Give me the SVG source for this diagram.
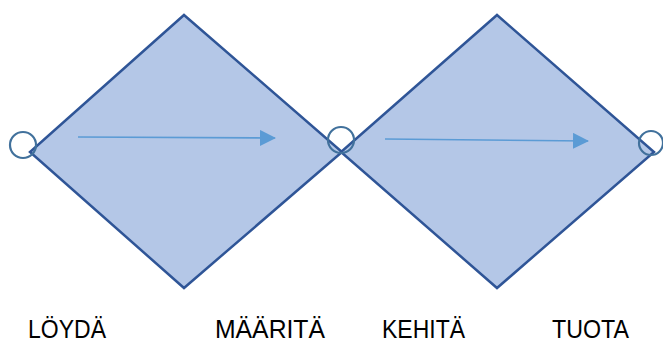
<svg xmlns="http://www.w3.org/2000/svg" width="663" height="345" viewBox="0 0 663 345">
<style>
.dia{fill:#b4c7e7;stroke:#2f5597;stroke-width:2.5;stroke-linejoin:miter}
.ring{fill:none;stroke:#41719c;stroke-width:2.2}
.arr{stroke:#5b9bd5;stroke-width:1.6;fill:none}
.lbl{font-family:"Liberation Sans",Arial,sans-serif;font-size:25px;fill:#000}
</style>
<defs>
<marker id="ah" viewBox="0 0 16 16" refX="15" refY="8" markerWidth="16" markerHeight="16" markerUnits="userSpaceOnUse" orient="auto">
<path d="M0,0 L16,8 L0,16 Z" fill="#5b9bd5"/>
</marker>
</defs>
<rect width="663" height="345" fill="#fff"/>
<g id="diamond1"><polygon class="dia" points="184,15 342,152 184,288 30,152"/></g>
<g id="diamond2"><polygon class="dia" points="497,15 654,152 497,288 341,152"/></g>
<g id="circle1"><circle class="ring" cx="23" cy="145" r="13"/></g>
<g id="circle2"><circle class="ring" cx="341" cy="140" r="13"/></g>
<g id="circle3"><circle class="ring" cx="651" cy="143" r="12"/></g>
<g id="connectors">
<line class="arr" x1="78" y1="137" x2="275" y2="138" marker-end="url(#ah)"/>
<line class="arr" x1="385" y1="139" x2="588" y2="141" marker-end="url(#ah)"/>
</g>
<g id="labels">
<text class="lbl" x="28" y="338" textLength="78" lengthAdjust="spacingAndGlyphs">LÖYDÄ</text>
<text class="lbl" x="215" y="338" textLength="110" lengthAdjust="spacingAndGlyphs">MÄÄRITÄ</text>
<text class="lbl" x="382" y="338" textLength="83" lengthAdjust="spacingAndGlyphs">KEHITÄ</text>
<text class="lbl" x="552" y="338" textLength="77" lengthAdjust="spacingAndGlyphs">TUOTA</text>
</g>
</svg>
